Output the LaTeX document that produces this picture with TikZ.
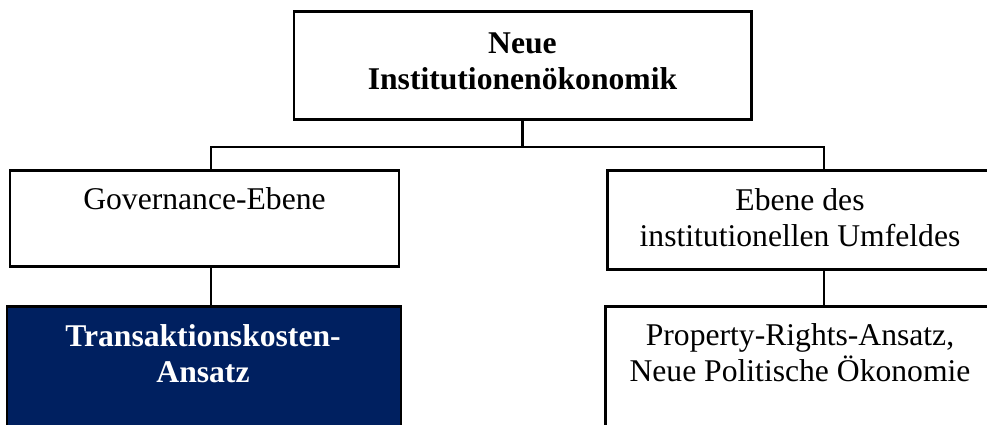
\documentclass[tikz,border=0pt]{standalone}
\usepackage{fontspec}
\setmainfont{Liberation Serif}
\usepackage{tikz}
\usetikzlibrary{positioning, calc}
\usepackage{xcolor}
\definecolor{navy}{RGB}{0,32,96}
\tikzset{
  ebox/.style={draw=black, line width=1.7pt, fill=white, inner sep=0pt},
  etext/.style={anchor=base, align=center, inner sep=0pt},
  conn/.style={black, line width=1.3pt}
}

\begin{document}
\begin{tikzpicture}[font=\fontsize{18}{20.6}\selectfont]
  \useasboundingbox (0,0) rectangle (19.74,8.5);
  \node[ebox, minimum width=9.14cm, minimum height=2.16cm] (top) at (10.45,7.18) {};
  \node[ebox, minimum width=7.78cm, minimum height=1.92cm] (gov) at (4.09,4.12) {};
  \node[ebox, minimum width=7.72cm, minimum height=1.98cm] (umf) at (16.00,4.09) {};
  \node[ebox, fill=navy, minimum width=7.88cm, minimum height=2.66cm] (tak) at (4.08,1.03) {};
  \node[ebox, minimum width=7.76cm, minimum height=2.66cm] (pra) at (15.98,1.03) {};
  % bei mehrzeiligen Texten sitzt "base" auf der letzten Zeile
  \node[etext, font=\fontsize{18}{20.6}\selectfont\bfseries] (toptxt) at (10.45,6.70) {Neue\\Institutionenökonomik};
  \node[etext] (govtxt) at (4.09,4.30) {Governance-Ebene};
  \node[etext] (umftxt) at (16.00,3.56) {Ebene des\\institutionellen Umfeldes};
  \node[etext, white, font=\fontsize{18}{20.6}\selectfont\bfseries] (taktxt) at (4.06,0.84) {Transaktionskosten-\\Ansatz};
  \node[etext] (pratxt) at (16.00,0.86) {Property-Rights-Ansatz,\\Neue Politische Ökonomie};
  \coordinate (split) at (10.45,5.56);
  \coordinate (lx) at (4.22,0);
  \coordinate (rx) at (16.48,0);
  \draw[conn] (top.south) -- (split);
  \draw[conn] (gov.north -| lx) |- (split) -| (umf.north -| rx);
  \draw[conn] (gov.south -| lx) -- (tak.north -| lx);
  \draw[conn] (umf.south -| rx) -- (pra.north -| rx);
\end{tikzpicture}
\end{document}
